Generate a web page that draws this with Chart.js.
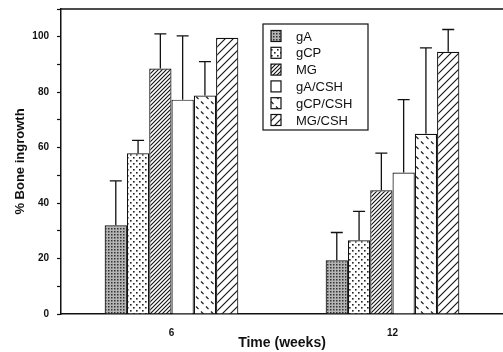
<!DOCTYPE html>
<html>
<head>
<meta charset="utf-8">
<script src="https://cdn.jsdelivr.net/npm/chart.js@4.4.0/dist/chart.umd.min.js"></script>
<style>
  html, body { margin: 0; padding: 0; background: #fff; }
  #box { width: 503px; height: 352px; }
</style>
</head>
<body>
<div id="box"><canvas id="bone"></canvas></div>
<script>
// categories
var weeks = ['6', '12'];
var groups = ['gA', 'gCP', 'MG', 'gA/CSH', 'gCP/CSH', 'MG/CSH'];

// % bone ingrowth (means), one array per group, [6 wk, 12 wk]
var gA      = [32, 19.4];
var gCP     = [58, 26.6];
var MG      = [88.5, 44.6];
var gA_CSH  = [77.3, 51];
var gCP_CSH = [78.8, 65];
var MG_CSH  = [99.6, 94.6];

// upper error bars (SD)
var gA_sd      = [16, 10];
var gCP_sd     = [4.6, 10.4];
var MG_sd      = [12.5, 13.4];
var gA_CSH_sd  = [23, 26.3];
var gCP_CSH_sd = [12.2, 31];
var MG_CSH_sd  = [0, 8];

var yTicks = [0, 20, 40, 60, 80, 100];

var means = [gA, gCP, MG, gA_CSH, gCP_CSH, MG_CSH];
var sds = [gA_sd, gCP_sd, MG_sd, gA_CSH_sd, gCP_CSH_sd, MG_CSH_sd];

var FONT = '"Liberation Sans", Arial, sans-serif';

// ---- fill patterns ----
function tile(s, draw) {
  var c = document.createElement('canvas');
  c.width = s; c.height = s;
  var g = c.getContext('2d');
  g.fillStyle = '#fff';
  g.fillRect(0, 0, s, s);
  draw(g, s);
  return document.createElement('canvas').getContext('2d').createPattern(c, 'repeat');
}
function diag(g, s, w) {
  g.strokeStyle = '#111';
  g.lineWidth = w;
  g.beginPath();
  g.moveTo(0, s); g.lineTo(s, 0);
  g.moveTo(-1, 1); g.lineTo(1, -1);
  g.moveTo(s - 1, s + 1); g.lineTo(s + 1, s - 1);
  g.stroke();
}
var fills = [
  tile(3, function (g) {           // gA: dense grey dots
    g.fillStyle = '#b5b5b5'; g.fillRect(0, 0, 3, 3);
    g.fillStyle = '#333'; g.fillRect(0, 0, 1.5, 1.5);
  }),
  tile(6, function (g) {           // gCP: sparse dots
    g.fillStyle = '#222';
    g.fillRect(1, 1, 1.6, 1.6);
    g.fillRect(4, 4, 1.6, 1.6);
  }),
  tile(4, function (g, s) { diag(g, s, 1.1); }),   // MG: dense hatch
  '#ffffff',                                      // gA/CSH: open
  tile(10, function (g) {          // gCP/CSH: short dashes
    g.strokeStyle = '#222'; g.lineWidth = 1.2;
    g.beginPath();
    g.moveTo(1, 1.5); g.lineTo(3.5, 4);
    g.moveTo(6, 6.5); g.lineTo(8.5, 9);
    g.stroke();
  }),
  tile(8, function (g, s) { diag(g, s, 1.1); })    // MG/CSH: wide hatch
];

var datasets = groups.map(function (name, i) {
  return {
    label: name,
    data: means[i],
    backgroundColor: fills[i],
    borderColor: '#111',
    borderWidth: 1.2,
    barPercentage: 1,
    categoryPercentage: 0.605
  };
});

// error bars drawn through the y scale
var errorBars = {
  id: 'errorBars',
  afterDatasetsDraw: function (chart) {
    var ctx = chart.ctx, y = chart.scales.y;
    ctx.save();
    ctx.strokeStyle = '#111';
    ctx.lineWidth = 1.3;
    chart.data.datasets.forEach(function (ds, i) {
      chart.getDatasetMeta(i).data.forEach(function (bar, j) {
        var sd = sds[i][j];
        if (!sd) return;
        var top = y.getPixelForValue(ds.data[j] + sd);
        ctx.beginPath();
        ctx.moveTo(bar.x, bar.y);
        ctx.lineTo(bar.x, top);
        ctx.moveTo(bar.x - 6, top);
        ctx.lineTo(bar.x + 6, top);
        ctx.stroke();
      });
    });
    ctx.restore();
  }
};

// frame top line + boxed legend inside the plot
var frameLegend = {
  id: 'frameLegend',
  afterDraw: function (chart) {
    var ctx = chart.ctx, a = chart.chartArea;
    ctx.save();
    ctx.strokeStyle = '#111';
    ctx.lineWidth = 1.5;
    ctx.beginPath();
    ctx.moveTo(a.left, a.top);
    ctx.lineTo(a.right, a.top);
    ctx.stroke();

    var bx = 263, by = 24, bw = 105, bh = 106;
    ctx.lineWidth = 1.2;
    ctx.fillStyle = '#fff';
    ctx.fillRect(bx, by, bw, bh);
    ctx.strokeRect(bx, by, bw, bh);
    ctx.font = '13px ' + FONT;
    ctx.textBaseline = 'middle';
    chart.data.datasets.forEach(function (ds, i) {
      var cy = by + 12 + i * 16.8;
      ctx.fillStyle = ds.backgroundColor;
      ctx.fillRect(271, cy - 5.5, 10, 11);
      ctx.strokeRect(271, cy - 5.5, 10, 11);
      ctx.fillStyle = '#111';
      ctx.fillText(ds.label, 296, cy + 1);
    });
    ctx.restore();
  }
};

new Chart(document.getElementById('bone'), {
  type: 'bar',
  data: { labels: weeks, datasets: datasets },
  plugins: [errorBars, frameLegend],
  options: {
    responsive: true,
    maintainAspectRatio: false,
    animation: false,
    layout: { padding: { top: 9, right: 0, left: 0, bottom: 0 } },
    plugins: { legend: { display: false }, tooltip: { enabled: false } },
    scales: {
      x: {
        afterFit: function (s) { s.height = 38; },
        grid: { display: false },
        border: { color: '#111', width: 1.5 },
        ticks: {
          color: '#111', padding: 5,
          font: { family: FONT, size: 10, weight: 'bold' }
        },
        title: {
          display: true, text: 'Time (weeks)', color: '#111',
          padding: { top: 0, bottom: 0 },
          font: { family: FONT, size: 14, weight: 'bold' }
        }
      },
      y: {
        min: 0, max: 110,
        afterFit: function (s) { s.width = 61; s.paddingTop = 0; },
        border: { color: '#111', width: 1.5 },
        grid: { drawOnChartArea: false, tickLength: 4, color: '#111', tickWidth: 1.2 },
        ticks: {
          stepSize: 10, color: '#111', padding: 8,
          callback: function (v) { return yTicks.indexOf(v) >= 0 ? v : ''; },
          font: { family: FONT, size: 10, weight: 'bold' }
        },
        title: {
          display: true, text: '% Bone ingrowth', color: '#111',
          padding: { top: 13, bottom: 0 },
          font: { family: FONT, size: 13, weight: 'bold' }
        }
      }
    }
  }
});
</script>
</body>
</html>
